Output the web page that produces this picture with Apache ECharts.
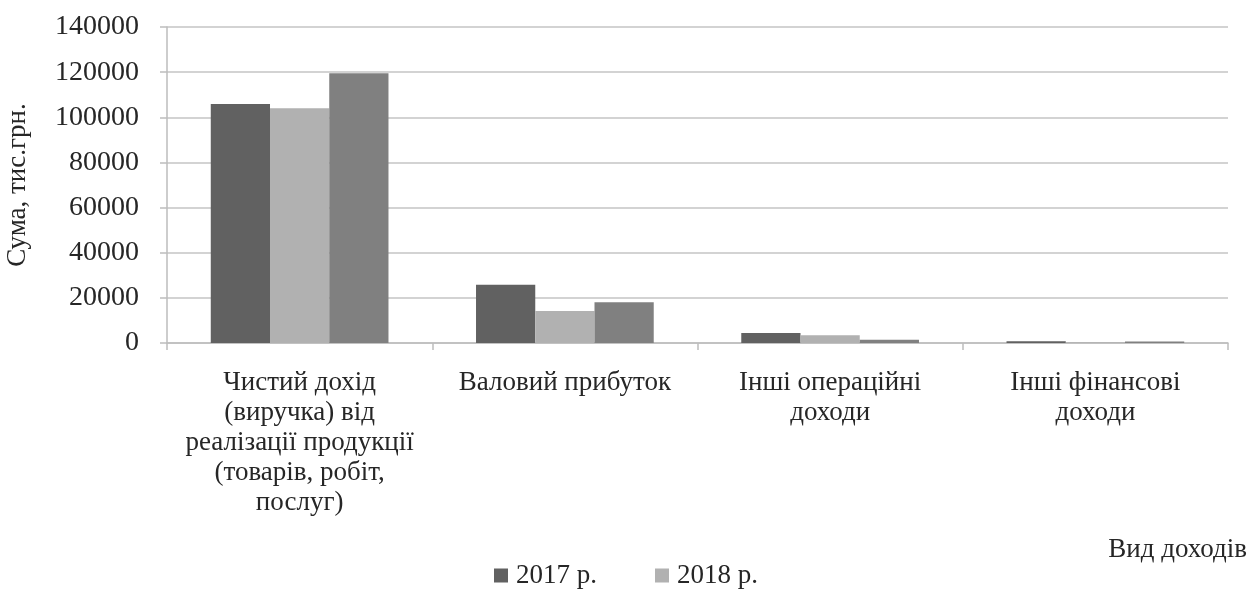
<!DOCTYPE html>
<html>
<head>
<meta charset="utf-8">
<script src="https://cdn.jsdelivr.net/npm/echarts@6/dist/echarts.min.js"></script>
<style>
  html, body { margin: 0; padding: 0; background: #ffffff; }
  #chart { width: 1252px; height: 592px; }
</style>
</head>
<body>
<div id="chart"></div>
<script>
// Income categories (line breaks as shown under the axis)
const categories = [
  'Чистий дохід\n(виручка) від\nреалізації продукції\n(товарів, робіт,\nпослуг)',
  'Валовий прибуток',
  'Інші операційні\nдоходи',
  'Інші фінансові\nдоходи'
];
const seriesNames = ['2017 р.', '2018 р.', '2019 р.'];
const values2017 = [105900, 25800, 4400, 800];
const values2018 = [104000, 14200, 3400, 300];
const values2019 = [119500, 18000, 1400, 700];
const yTicks = { min: 0, max: 140000, interval: 20000 };

const serif = '"Liberation Serif", "DejaVu Serif", serif';
const textColor = '#262626';
const colors = ['#616161', '#b1b1b1', '#808080'];

const chart = echarts.init(document.getElementById('chart'), null, { renderer: 'canvas' });

const mkBar = (name, data, color) => ({
  name: name,
  type: 'bar',
  data: data,
  barGap: '0%',
  barCategoryGap: '33%',
  itemStyle: { color: color },
  emphasis: { disabled: true }
});

chart.setOption({
  animation: false,
  backgroundColor: '#ffffff',
  textStyle: { fontFamily: serif, color: textColor },
  title: {
    text: 'Вид доходів',
    right: 5,
    top: 536,
    padding: 0,
    textStyle: { fontFamily: serif, fontSize: 27, fontWeight: 'normal', color: textColor }
  },
  legend: {
    data: ['2017 р.', '2018 р.'],
    left: 'center',
    top: 562,
    padding: 0,
    itemWidth: 14,
    itemHeight: 14,
    itemGap: 58,
    icon: 'rect',
    textStyle: { fontFamily: serif, fontSize: 27, color: textColor, padding: [0, 0, 0, 3] }
  },
  grid: { left: 167, right: 24, top: 27, bottom: 249, containLabel: false, outerBoundsMode: 'none' },
  xAxis: {
    type: 'category',
    data: categories,
    axisLine: { show: true, lineStyle: { color: '#bdbdbd', width: 1.5 } },
    axisTick: { show: true, length: 7, lineStyle: { color: '#bdbdbd', width: 1.5 } },
    axisLabel: {
      fontFamily: serif,
      fontSize: 27,
      lineHeight: 30,
      color: textColor,
      margin: 25,
      interval: 0
    }
  },
  yAxis: {
    type: 'value',
    min: yTicks.min,
    max: yTicks.max,
    interval: yTicks.interval,
    name: 'Сума, тис.грн.',
    nameLocation: 'middle',
    nameGap: 136,
    nameRotate: 90,
    nameTextStyle: { fontFamily: serif, fontSize: 27, color: textColor },
    axisLine: { show: true, lineStyle: { color: '#bdbdbd', width: 1.5 } },
    axisTick: { show: true, length: 7, lineStyle: { color: '#bdbdbd', width: 1.5 } },
    splitLine: { show: true, lineStyle: { color: '#c4c4c4', width: 1.5 } },
    axisLabel: {
      fontFamily: serif,
      fontSize: 28,
      color: textColor,
      margin: 28,
      formatter: (v) => String(v)
    }
  },
  series: [
    mkBar(seriesNames[0], values2017, colors[0]),
    mkBar(seriesNames[1], values2018, colors[1]),
    mkBar(seriesNames[2], values2019, colors[2])
  ]
});
</script>
</body>
</html>
